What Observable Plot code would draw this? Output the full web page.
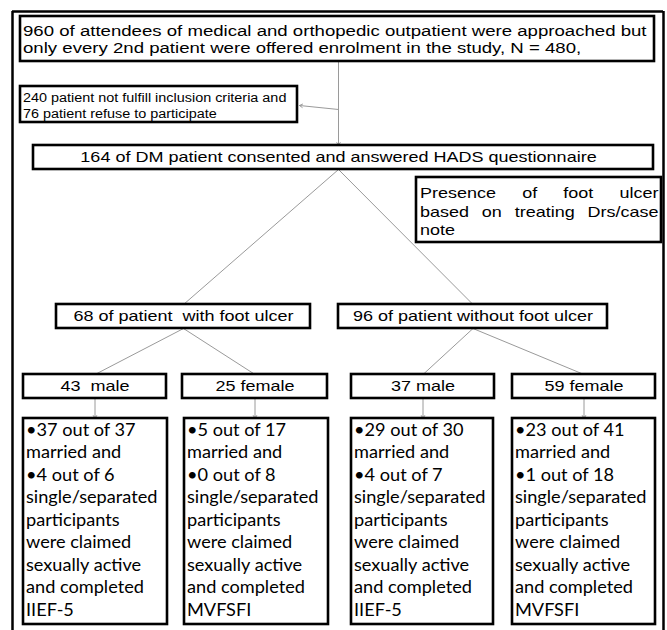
<!DOCTYPE html>
<html>
<head>
<meta charset="utf-8">
<script src="https://cdn.jsdelivr.net/npm/d3@7"></script>
<script src="https://cdn.jsdelivr.net/npm/@observablehq/plot@0.6"></script>
<style>
  html, body { margin: 0; padding: 0; background: #fff; }
  #chart svg { display: block; }
</style>
</head>
<body>
<div id="chart"></div>
<script>
// ---------------- data (counts) ----------------
const screened = 960;
const offered = 480;
const notEligible = 240;
const refused = 76;
const consented = 164;
const ulcerCounts = [68, 96];
const ulcerGroups = ["\u00a0with foot ulcer", "without foot ulcer"];
const sexCounts = [43, 25, 37, 59];
const sexGroups = ["\u00a0male", "female", "male", "female"];
const marriedActive = [37, 5, 29, 23];
const marriedTotal = [37, 17, 30, 41];
const singleActive = [4, 0, 4, 1];
const singleTotal = [6, 8, 7, 18];
const questionnaires = ["IIEF-5", "MVFSFI", "IIEF-5", "MVFSFI"];
const noteLines = ["Presence of foot ulcer", "based on treating Drs/case", "note"];

// ---------------- layout of the diagram (page units) ----------------
const W = 667, H = 630;
const frameX = [12, 663], frameTop = 11;
const screenBox = {x1: 20, x2: 654, y1: 16, y2: 61};
const exclBox = {x1: 20, x2: 297, y1: 86, y2: 122};
const consBox = {x1: 33, x2: 653, y1: 145, y2: 169};
const noteBox = {x1: 416, x2: 661, y1: 177, y2: 242};
const ulcerBoxX1 = [56, 338], ulcerBoxX2 = [310, 607], ulcerBoxY = [304, 328];
const sexBoxX1 = [23, 182, 351, 512], sexBoxX2 = [166, 327, 494, 655], sexBoxY = [374, 398];
const detailBoxX1 = [23, 184, 351, 512], detailBoxX2 = [167, 328, 493, 655], detailBoxY = [418, 624];
const sideArrowY = [109, 105];
const STRETCH = 1.2;        // horizontal widening of the Arial-like text
const DETAIL_STRETCH = 1.1; // horizontal widening of the Calibri-like text
const ARIAL = "'Liberation Sans', Arial, sans-serif";
const CALIBRI = "Lato, 'Open Sans', sans-serif";

// ---------------- derived tables ----------------
const screenLines = [
  `${screened} of attendees of medical and orthopedic outpatient were approached but`,
  `only every 2nd patient were offered enrolment in the study, N = ${offered},`
];
const exclLines = [
  `${notEligible} patient not fulfill inclusion criteria and`,
  `${refused} patient refuse to participate`
];
const consText = `${consented} of DM patient consented and answered HADS questionnaire`;
const ulcerLabels = ulcerCounts.map((c, i) => `${c} of patient ${ulcerGroups[i]}`);
const sexLabels = sexCounts.map((c, i) => `${c} ${sexGroups[i]}`);
const detailLines = sexCounts.map((_, i) => [
  `\u2022${marriedActive[i]} out of ${marriedTotal[i]}`,
  "married and",
  `\u2022${singleActive[i]} out of ${singleTotal[i]}`,
  "single/separated",
  "participants",
  "were claimed",
  "sexually active",
  "and completed",
  questionnaires[i]
]);

const cx = (a, b) => (a + b) / 2;
const boxes = [
  screenBox, exclBox, consBox, noteBox,
  ...ulcerCounts.map((_, i) => ({x1: ulcerBoxX1[i], x2: ulcerBoxX2[i], y1: ulcerBoxY[0], y2: ulcerBoxY[1]})),
  ...sexCounts.map((_, i) => ({x1: sexBoxX1[i], x2: sexBoxX2[i], y1: sexBoxY[0], y2: sexBoxY[1]})),
  ...sexCounts.map((_, i) => ({x1: detailBoxX1[i], x2: detailBoxX2[i], y1: detailBoxY[0], y2: detailBoxY[1]}))
];

const mainX = cx(consBox.x1, consBox.x2) - 5;
const arrows = [
  {x1: mainX, y1: screenBox.y2, x2: mainX, y2: consBox.y1},
  {x1: mainX, y1: sideArrowY[0], x2: exclBox.x2 + 2, y2: sideArrowY[1]},
  ...sexCounts.map((_, i) => {
    const x = cx(sexBoxX1[i], sexBoxX2[i]);
    return {x1: x, y1: sexBoxY[1], x2: x, y2: detailBoxY[0]};
  })
];
const links = [
  ...ulcerCounts.map((_, i) => ({x1: mainX, y1: consBox.y2, x2: cx(ulcerBoxX1[i], ulcerBoxX2[i]), y2: ulcerBoxY[0]})),
  ...sexCounts.map((_, i) => {
    const p = i < 2 ? 0 : 1;
    return {x1: cx(ulcerBoxX1[p], ulcerBoxX2[p]), y1: ulcerBoxY[1], x2: cx(sexBoxX1[i], sexBoxX2[i]), y2: sexBoxY[0]};
  })
];

// text rows
const screenText = screenLines.map((t, i) => ({t, x: screenBox.x1 + 2.5, y: 31 + i * 17}));
const exclText = exclLines.map((t, i) => ({t, x: exclBox.x1 + 2.5, y: 98 + i * 16}));
const centerText = [
  {t: consText, x: mainX, y: cx(consBox.y1, consBox.y2)},
  ...ulcerLabels.map((t, i) => ({t, x: cx(ulcerBoxX1[i], ulcerBoxX2[i]), y: cx(ulcerBoxY[0], ulcerBoxY[1])})),
  ...sexLabels.map((t, i) => ({t, x: cx(sexBoxX1[i], sexBoxX2[i]), y: cx(sexBoxY[0], sexBoxY[1])}))
];
const detailText = detailLines.flatMap((lines, i) =>
  lines.map((t, j) => ({t, x: detailBoxX1[i] + 2.5, y: 430 + j * 22.5}))
);

// justified note text: measure words
const ctx = document.createElement("canvas").getContext("2d");
const noteFont = 15;
ctx.font = `${noteFont}px 'Liberation Sans'`;
const noteLeft = noteBox.x1 + 3.5, noteRight = noteBox.x2 - 3;
const noteWords = noteLines.flatMap((line, i) => {
  const y = 193 + i * 18.5;
  const words = line.split(" ");
  if (i === noteLines.length - 1 || words.length < 2) return [{t: line, x: noteLeft, y}];
  const widths = words.map(w => ctx.measureText(w).width * STRETCH);
  const gap = (noteRight - noteLeft - d3.sum(widths)) / (words.length - 1);
  let x = noteLeft;
  return words.map((w, k) => {
    const d = {t: w, x, y};
    x += widths[k] + gap;
    return d;
  });
});

const gray = "#9a9a9a";

const plot = Plot.plot({
  width: W,
  height: H,
  margin: 0,
  x: {domain: [0, W], range: [0, W], axis: null},
  y: {domain: [0, H], range: [0, H], axis: null},
  style: {background: "#fff", overflow: "hidden"},
  marks: [
    // outer frame (open at the bottom)
    Plot.ruleX(frameX, {y1: frameTop, y2: H, stroke: "black", strokeWidth: 2.5}),
    Plot.ruleY([frameTop], {x1: frameX[0], x2: frameX[1], stroke: "black", strokeWidth: 2.5}),
    // connectors
    Plot.link(links, {x1: "x1", y1: "y1", x2: "x2", y2: "y2", stroke: gray, strokeWidth: 1}),
    Plot.arrow(arrows, {x1: "x1", y1: "y1", x2: "x2", y2: "y2", stroke: gray, strokeWidth: 1, headLength: 5}),
    // boxes
    Plot.rect(boxes, {x1: "x1", x2: "x2", y1: "y1", y2: "y2", fill: "white", stroke: "black", strokeWidth: 2.6}),
    // texts
    Plot.text(screenText, {x: "x", y: "y", text: "t", textAnchor: "start", fontSize: 15.5, fontFamily: ARIAL, fill: "black"}),
    Plot.text(exclText, {x: "x", y: "y", text: "t", textAnchor: "start", fontSize: 12, fontFamily: ARIAL, fill: "black"}),
    Plot.text(centerText, {x: "x", y: "y", text: "t", textAnchor: "middle", fontSize: 15, fontFamily: ARIAL, fill: "black"}),
    Plot.text(noteWords, {x: "x", y: "y", text: "t", textAnchor: "start", fontSize: noteFont, fontFamily: ARIAL, fill: "black"}),
    Plot.text(detailText, {x: "x", y: "y", text: "t", textAnchor: "start", fontSize: 16.5, fontFamily: CALIBRI, fill: "black"})
  ]
});

document.getElementById("chart").append(plot);
// widen glyphs horizontally, as in the reference image
plot.querySelectorAll("text").forEach(t => {
  const g = t.closest("g[font-family]");
  const fam = g ? g.getAttribute("font-family") : "";
  const s = fam.includes("Lato") ? DETAIL_STRETCH : STRETCH;
  const w = t.getComputedTextLength();
  if (w > 0) {
    t.setAttribute("textLength", (w * s).toFixed(1));
    t.setAttribute("lengthAdjust", "spacingAndGlyphs");
  }
});
</script>
</body>
</html>
